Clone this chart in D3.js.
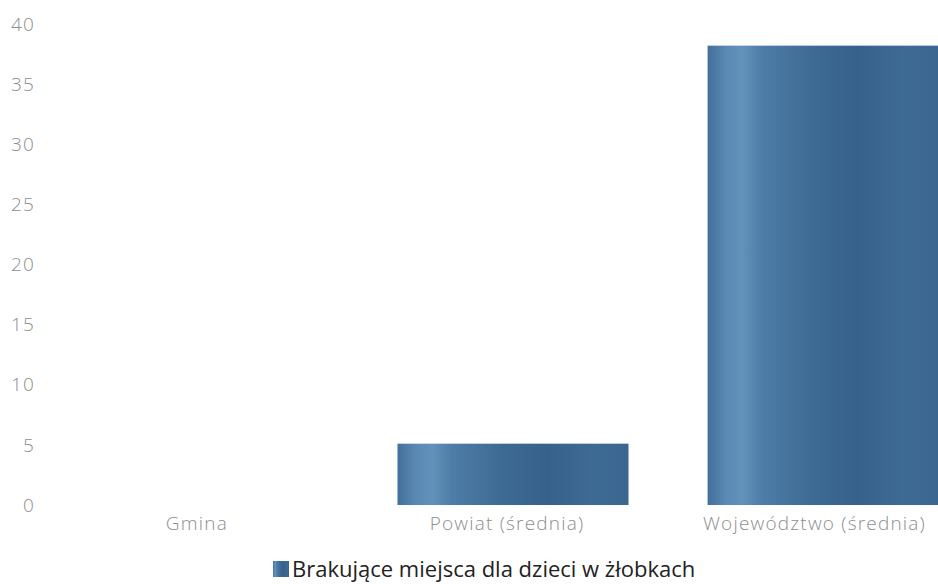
<!DOCTYPE html>
<html>
<head>
<meta charset="utf-8">
<script src="https://cdn.jsdelivr.net/npm/d3@7"></script>
<style>
  body { margin: 0; background: #fff; }
  text { font-family: "Open Sans", "Noto Sans", sans-serif; }
</style>
</head>
<body>
<div id="chart"></div>
<script>
const categories = ["Gmina", "Powiat (średnia)", "Województwo (średnia)"];
const values = [0, 5.1, 38.2];
const yTicks = [0, 5, 10, 15, 20, 25, 30, 35, 40];
const seriesName = "Brakujące miejsca dla dzieci w żłobkach";

const W = 938, H = 584;

const svg = d3.select("#chart").append("svg")
    .attr("width", W)
    .attr("height", H);

// bar gradient, soft lighter stripe near the left edge
const grad = svg.append("defs").append("linearGradient")
    .attr("id", "barGrad")
    .attr("x1", "0%").attr("x2", "100%").attr("y1", "0%").attr("y2", "0%");
[["0%", "#42709a"], ["8%", "#5a89b3"], ["15%", "#6291ba"], ["24%", "#4d7ca6"],
 ["45%", "#3d6b94"], ["65%", "#36618a"], ["85%", "#3e6b94"], ["100%", "#3a668f"]]
  .forEach(([o, c]) => grad.append("stop").attr("offset", o).attr("stop-color", c));

const x = d3.scaleBand()
    .domain(categories)
    .range([48, 978])
    .paddingInner(0.255)
    .paddingOuter(0.127);

const y = d3.scaleLinear()
    .domain([0, 40])
    .range([505, 24]);

// y axis labels
svg.append("g")
  .selectAll("text")
  .data(yTicks)
  .join("text")
    .attr("x", 35)
    .attr("y", d => y(d))
    .attr("dy", "0.35em")
    .attr("text-anchor", "end")
    .attr("fill", "#8e8e8e")
    .attr("font-size", 19)
    .attr("font-weight", 300)
    .attr("letter-spacing", 1.2)
    .text(d => d);

// bars
svg.append("g")
  .selectAll("rect")
  .data(values)
  .join("rect")
    .attr("x", (d, i) => x(categories[i]))
    .attr("y", d => y(d))
    .attr("width", x.bandwidth())
    .attr("height", d => y(0) - y(d))
    .attr("fill", "url(#barGrad)");

// category labels, kept inside the right edge
svg.append("g")
  .selectAll("text")
  .data(categories)
  .join("text")
    .attr("y", 523)
    .attr("dy", "0.35em")
    .attr("text-anchor", "middle")
    .attr("fill", "#8e8e8e")
    .attr("font-size", 19)
    .attr("font-weight", 300)
    .attr("letter-spacing", 1.2)
    .text(d => d)
    .attr("x", function(d) {
        const half = this.getComputedTextLength() / 2;
        const cx = x(d) + x.bandwidth() / 2 - 6;
        return Math.min(cx, 926 - half);
    });

// legend
const legend = svg.append("g").attr("transform", "translate(273,561)");
legend.append("rect")
    .attr("width", 16).attr("height", 16)
    .attr("fill", "url(#barGrad)");
legend.append("text")
    .attr("x", 19)
    .attr("y", 8)
    .attr("dy", "0.35em")
    .attr("fill", "#222")
    .attr("font-size", 22)
    .text(seriesName);
</script>
</body>
</html>
